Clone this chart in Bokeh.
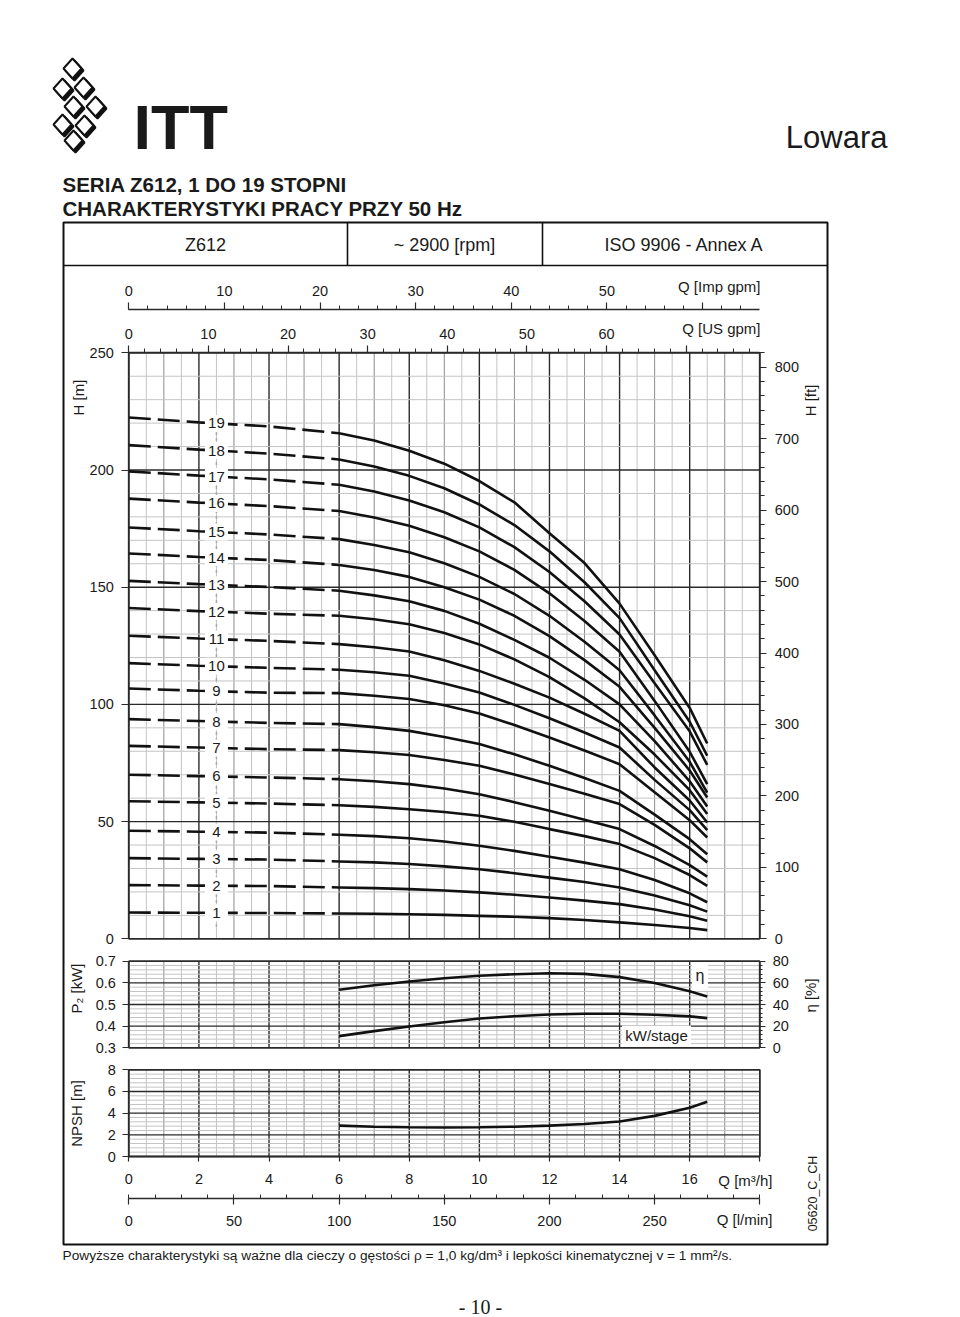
import numpy as np
from bokeh.plotting import figure
from bokeh.models import Range1d, LinearAxis, FixedTicker, PrintfTickFormatter
from bokeh.core.properties import value
from bokeh.embed import file_html
from bokeh.resources import INLINE

# ------------------------------------------------------------------ data
stages = list(range(1, 20))
q_head = [0, 2, 4, 6, 7, 8, 9, 10, 11, 12, 13, 14, 15, 16, 16.5]   # m3/h
H01 = [11.2, 11.1, 11.0, 10.8, 10.7, 10.5, 10.2, 9.8, 9.4, 8.8, 8.0, 7.0, 5.9, 4.6, 3.7]
H02 = [22.9, 22.7, 22.5, 21.9, 21.6, 21.2, 20.6, 19.8, 18.8, 17.6, 16.3, 14.8, 12.5, 9.6, 7.7]
H03 = [34.4, 34.1, 33.8, 33.0, 32.6, 31.9, 30.9, 29.7, 28.0, 26.1, 24.2, 21.9, 18.5, 14.3, 11.6]
H04 = [46.1, 45.7, 45.3, 44.4, 43.8, 42.9, 41.5, 39.7, 37.5, 35.0, 32.5, 29.7, 25.1, 19.4, 15.6]
H05 = [58.7, 58.2, 57.7, 57.0, 56.3, 55.3, 54.1, 52.5, 49.9, 46.8, 43.8, 40.4, 34.4, 27.2, 22.6]
H06 = [70.0, 69.4, 68.8, 68.1, 67.2, 66.0, 64.1, 61.7, 58.3, 54.6, 50.8, 46.8, 39.6, 31.4, 26.5]
H07 = [82.3, 81.6, 80.9, 80.5, 79.6, 78.4, 76.3, 73.8, 70.1, 66.0, 61.9, 57.5, 48.6, 38.6, 32.6]
H08 = [93.7, 92.9, 92.1, 91.6, 90.3, 88.7, 86.1, 83.1, 78.7, 73.8, 68.6, 63.1, 53.0, 42.5, 36.1]
H09 = [106.8, 105.8, 105.0, 104.8, 103.7, 102.3, 99.6, 96.1, 91.2, 85.9, 80.3, 74.5, 62.5, 50.6, 43.2]
H10 = [117.6, 116.5, 115.6, 114.8, 113.7, 112.2, 108.9, 105.1, 99.8, 94.1, 88.0, 81.6, 67.8, 54.9, 46.4]
H11 = [129.3, 128.1, 127.1, 125.7, 124.4, 122.6, 118.8, 114.3, 108.8, 102.9, 96.0, 88.7, 73.1, 59.0, 49.6]
H12 = [141.1, 139.8, 138.7, 137.8, 136.3, 134.2, 130.5, 125.6, 119.2, 111.6, 102.6, 92.4, 78.6, 63.4, 53.2]
H13 = [152.7, 151.3, 150.1, 148.5, 146.5, 144.0, 139.9, 134.4, 127.5, 119.9, 110.5, 100.0, 84.3, 67.2, 56.4]
H14 = [164.4, 162.9, 161.6, 159.5, 157.3, 154.4, 150.0, 144.7, 137.8, 129.1, 118.9, 107.5, 90.0, 71.8, 60.3]
H15 = [175.5, 173.9, 172.5, 170.5, 168.0, 164.9, 160.2, 154.4, 147.1, 137.8, 126.7, 114.6, 95.3, 75.5, 62.4]
H16 = [187.8, 186.1, 184.6, 182.5, 179.7, 176.2, 171.3, 165.3, 157.4, 147.4, 135.6, 122.5, 101.5, 79.8, 66.0]
H17 = [199.4, 197.6, 196.0, 193.7, 190.8, 187.0, 182.0, 175.5, 167.1, 156.5, 144.0, 129.8, 109.0, 88.5, 74.2]
H18 = [210.6, 208.7, 207.0, 204.5, 201.5, 197.5, 192.2, 185.3, 176.5, 165.3, 152.1, 136.8, 114.6, 92.6, 78.1]
H19 = [222.4, 220.3, 218.6, 215.7, 212.6, 208.2, 202.7, 195.3, 186.2, 173.0, 160.3, 143.0, 121.0, 98.5, 83.3]
heads = [H01, H02, H03, H04, H05, H06, H07, H08, H09, H10,
         H11, H12, H13, H14, H15, H16, H17, H18, H19]

q_perf = [6, 7, 8, 9, 10, 11, 12, 13, 14, 15, 16, 16.5]
eta_pct = [53.6, 57.8, 61.3, 64.3, 66.5, 68.0, 68.8, 68.3, 65.3, 59.8, 52.2, 47.4]
kw_stage = [0.354, 0.377, 0.398, 0.418, 0.435, 0.446, 0.454, 0.457, 0.457, 0.453, 0.445, 0.437]
npsh_m = [2.85, 2.75, 2.70, 2.68, 2.70, 2.75, 2.85, 3.00, 3.23, 3.75, 4.50, 5.05]

h_ticks = [0, 50, 100, 150, 200, 250]
ft_ticks = [0, 100, 200, 300, 400, 500, 600, 700, 800]
q_ticks = [0, 2, 4, 6, 8, 10, 12, 14, 16, 18]
us_ticks = [0, 10, 20, 30, 40, 50, 60, 70]
imp_ticks = [0, 10, 20, 30, 40, 50, 60]
lmin_ticks = [0, 50, 100, 150, 200, 250, 300]
kw_ticks = [0.3, 0.4, 0.5, 0.6, 0.7]
eta_ticks = [0, 20, 40, 60, 80]
npsh_ticks = [0, 2, 4, 6, 8]

# ------------------------------------------------------------------ page geometry (px)
W, HGT = 944, 1317
X_LO, X_HI = 0, W
Y_TOP, Y_BOT = 0, HGT
Q0_PX, Q18_PX = 128.3, 759.3
H0_PY, H250_PY = 938.3, 352.3
KW3_PY, KW7_PY = 1047.3, 960.7
N0_PY, N8_PY = 1156.0, 1069.3
IMP_PY = 309.0
LMIN_PY = 1198.3


def span(pa, va, pb, vb, lo, hi):
    k = (vb - va) / (pb - pa)
    return Range1d(va + k * (lo - pa), va + k * (hi - pa))


FT = 3.28084
US = 0.2271247
IMP = 0.2727655

x_range = span(Q0_PX, 0, Q18_PX, 18, X_LO, X_HI)
y_range = span(H0_PY, 0, H250_PY, 250, Y_BOT, Y_TOP)

p = figure(width=W, height=HGT, x_range=x_range, y_range=y_range,
           output_backend="svg", toolbar_location=None,
           x_axis_location=None, y_axis_location=None, min_border=0,
           outline_line_color=None, background_fill_color="white",
           border_fill_color="white")
p.xgrid.visible = False
p.ygrid.visible = False

p.extra_x_ranges = {
    "px": Range1d(X_LO, X_HI),
    "us": span(Q0_PX, 0, Q18_PX, 18 / US, X_LO, X_HI),
    "imp": span(Q0_PX, 0, Q18_PX, 18 / IMP, X_LO, X_HI),
    "lmin": span(Q0_PX, 0, Q18_PX, 18 * 1000 / 60, X_LO, X_HI),
}
p.extra_y_ranges = {
    "py": Range1d(Y_BOT, Y_TOP),
    "ft": span(H0_PY, 0, H250_PY, 250 * FT, Y_BOT, Y_TOP),
    "kw": span(KW3_PY, 0.3, KW7_PY, 0.7, Y_BOT, Y_TOP),
    "eta": span(KW3_PY, 0, KW7_PY, 80, Y_BOT, Y_TOP),
    "npsh": span(N0_PY, 0, N8_PY, 8, Y_BOT, Y_TOP),
}


def h_at(py):
    return 250 * (H0_PY - py) / (H0_PY - H250_PY)


def n_at(py):
    return 8 * (N0_PY - py) / (N0_PY - N8_PY)


FONT = value("Liberation Sans")
INK = "#1a1a1a"


def txt(x, y, s, size, align="left", baseline="middle", style="normal",
        font="Liberation Sans", angle=0.0, xr="px", yr="py", color=INK):
    p.text(x=[x], y=[y], text=[s], x_range_name=xr, y_range_name=yr,
           text_font=value(font), text_font_size=size, text_font_style=style,
           text_align=align, text_baseline=baseline, angle=angle,
           text_color=color)


# ------------------------------------------------------------------ grids
LIGHT, MID, DARK = "#c4c4c4", "#8c8c8c", "#2a2a2a"
q_lines = np.arange(0, 18.001, 0.5)


def vgrid(y0, y1, yr):
    for level, col, lw in (("minor", LIGHT, 1.0), ("mid", MID, 1.0), ("major", DARK, 1.4)):
        if level == "minor":
            qs = [q for q in q_lines if q % 1 != 0]
        elif level == "mid":
            qs = [q for q in q_lines if q % 2 == 1]
        else:
            qs = [q for q in q_lines if q % 2 == 0]
        p.segment(x0=qs, x1=qs, y0=[y0] * len(qs), y1=[y1] * len(qs),
                  y_range_name=yr, line_color=col, line_width=lw)


def hgrid(vals, major_every, yr):
    minor = [v for v in vals if abs(v / major_every - round(v / major_every)) > 1e-6]
    major = [v for v in vals if abs(v / major_every - round(v / major_every)) <= 1e-6]
    p.segment(x0=[0] * len(minor), x1=[18] * len(minor), y0=minor, y1=minor,
              y_range_name=yr, line_color=LIGHT, line_width=1.0)
    p.segment(x0=[0] * len(major), x1=[18] * len(major), y0=major, y1=major,
              y_range_name=yr, line_color=DARK, line_width=1.4)


# main H panel
vgrid(0, 250, "default")
hgrid(list(np.arange(0, 250.01, 10)), 50, "default")
# power / efficiency panel
vgrid(0.3, 0.7, "kw")
hgrid(list(np.round(np.arange(0.3, 0.7001, 0.02), 3)), 0.1, "kw")
# NPSH panel
vgrid(0, 8, "npsh")
hgrid(list(np.round(np.arange(0, 8.001, 0.4), 2)), 2, "npsh")

# panel borders
p.quad(left=[0], right=[18], bottom=[0], top=[250], fill_color=None,
       line_color=DARK, line_width=1.5)
p.quad(left=[0], right=[18], bottom=[0.3], top=[0.7], y_range_name="kw",
       fill_color=None, line_color=DARK, line_width=1.5)
p.quad(left=[0], right=[18], bottom=[0], top=[8], y_range_name="npsh",
       fill_color=None, line_color=DARK, line_width=1.5)

# ------------------------------------------------------------------ head curves
q_arr = np.array(q_head)
dash_mask = q_arr <= 6
solid_mask = q_arr >= 6
label_q = 2.5
p.segment(x0=[label_q], x1=[label_q], y0=[5], y1=[219], line_color="#a8a8a8",
          line_width=1.5, line_dash="3 3")
label_h = []
for n, h in zip(stages, heads):
    h = np.array(h)
    p.line(q_arr[dash_mask], h[dash_mask], line_color="#111111", line_width=2.6,
           line_dash="22 7")
    p.line(q_arr[solid_mask], h[solid_mask], line_color="#111111", line_width=2.6)
    label_h.append(float(np.interp(label_q, q_arr, h)))
p.rect(x=[label_q] * 19, y=label_h, width=23, height=17, width_units="screen",
       height_units="screen", fill_color="white", line_color=None)
p.text(x=[label_q] * 19, y=label_h, text=[str(n) for n in stages],
       text_font=FONT, text_font_size="15px", text_align="center",
       text_baseline="middle", text_color=INK)

# ------------------------------------------------------------------ performance curves
p.line(q_perf, eta_pct, y_range_name="eta", line_color="#111111", line_width=2.6)
p.line(q_perf, kw_stage, y_range_name="kw", line_color="#111111", line_width=2.6)
p.line(q_perf, npsh_m, y_range_name="npsh", line_color="#111111", line_width=2.6)

# labels inside panel (white boxes)
p.quad(left=[691.5], right=[707.5], top=[961.5], bottom=[990], x_range_name="px",
       y_range_name="py", fill_color="white", line_color=None)
txt(699.5, 975, "η", "16px", align="center")
p.quad(left=[621.5], right=[690.5], top=[1025], bottom=[1046.5], x_range_name="px",
       y_range_name="py", fill_color="white", line_color=None)
txt(656, 1035, "kW/stage", "15px", align="center")


# ------------------------------------------------------------------ axes
def style_axis(ax, tick_out=7, minor_out=0, minor_in=0, standoff=7, size="14.5px"):
    ax.major_tick_out = tick_out
    ax.major_tick_in = 0
    ax.minor_tick_out = minor_out
    ax.minor_tick_in = minor_in
    ax.major_tick_line_color = DARK
    ax.minor_tick_line_color = DARK
    ax.major_tick_line_width = 1.2
    ax.minor_tick_line_width = 1.0
    ax.axis_line_color = DARK
    ax.axis_line_width = 1.3
    ax.major_label_standoff = standoff
    ax.major_label_text_font = "Liberation Sans"
    ax.major_label_text_font_size = size
    ax.major_label_text_color = INK


ax_h = LinearAxis(bounds=(0, 250), fixed_location=0,
                  ticker=FixedTicker(ticks=h_ticks, minor_ticks=[]))
style_axis(ax_h, tick_out=7, standoff=8)
p.add_layout(ax_h, "left")

ax_ft = LinearAxis(y_range_name="ft", bounds=(0, 250 * FT), fixed_location=18,
                   ticker=FixedTicker(ticks=ft_ticks, minor_ticks=list(range(0, 821, 20))))
style_axis(ax_ft, tick_out=7, minor_out=5, standoff=8)
p.add_layout(ax_ft, "right")

ax_us = LinearAxis(x_range_name="us", bounds=(0, 18 / US), fixed_location=250,
                   ticker=FixedTicker(ticks=us_ticks, minor_ticks=list(range(0, 80, 2))))
ax_us.major_label_overrides = {70: ""}
style_axis(ax_us, tick_out=7, minor_out=4, standoff=7)
p.add_layout(ax_us, "above")

ax_imp = LinearAxis(x_range_name="imp", bounds=(0, 18 / IMP), fixed_location=h_at(IMP_PY),
                    ticker=FixedTicker(ticks=imp_ticks, minor_ticks=list(range(0, 66, 2))))
ax_imp.major_label_overrides = {60: ""}
style_axis(ax_imp, tick_out=7, minor_out=4, standoff=7)
p.add_layout(ax_imp, "above")

ax_q = LinearAxis(y_range_name="npsh", bounds=(0, 18), fixed_location=0,
                  ticker=FixedTicker(ticks=q_ticks, minor_ticks=[]))
ax_q.major_label_overrides = {18: ""}
style_axis(ax_q, tick_out=5, standoff=12)
p.add_layout(ax_q, "below")

ax_l = LinearAxis(x_range_name="lmin", y_range_name="npsh", bounds=(0, 300),
                  fixed_location=n_at(LMIN_PY),
                  ticker=FixedTicker(ticks=lmin_ticks,
                                     minor_ticks=list(np.arange(0, 300.1, 12.5))))
ax_l.major_label_overrides = {300: ""}
style_axis(ax_l, tick_out=6, minor_in=4, standoff=11)
p.add_layout(ax_l, "below")

ax_kw = LinearAxis(y_range_name="kw", bounds=(0.3, 0.7), fixed_location=0,
                   ticker=FixedTicker(ticks=kw_ticks, minor_ticks=[]),
                   formatter=PrintfTickFormatter(format="%.1f"))
style_axis(ax_kw, tick_out=6, standoff=7)
p.add_layout(ax_kw, "left")

ax_eta = LinearAxis(y_range_name="eta", bounds=(0, 80), fixed_location=18,
                    ticker=FixedTicker(ticks=eta_ticks, minor_ticks=list(range(0, 81, 4))))
style_axis(ax_eta, tick_out=6, minor_out=3, standoff=7)
p.add_layout(ax_eta, "right")

ax_n = LinearAxis(y_range_name="npsh", bounds=(0, 8), fixed_location=0,
                  ticker=FixedTicker(ticks=npsh_ticks, minor_ticks=[]))
style_axis(ax_n, tick_out=6, standoff=7)
p.add_layout(ax_n, "left")

# axis titles
txt(77.5, 397, "H [m]", "15px", align="center", angle=np.pi / 2)
txt(810, 400, "H [ft]", "15px", align="center", angle=np.pi / 2)
txt(76, 988, "P₂ [kW]", "15px", align="center", angle=np.pi / 2)
txt(76, 1113, "NPSH [m]", "15px", align="center", angle=np.pi / 2)
txt(810, 995, "η [%]", "15px", align="center", angle=np.pi / 2)
txt(760, 286, "Q [Imp gpm]", "15px", align="right")
txt(760, 328, "Q [US gpm]", "15px", align="right")
txt(772, 1180, "Q [m³/h]", "15px", align="right")
txt(772, 1219, "Q [l/min]", "15px", align="right")
txt(812, 1193, "05620_C_CH", "12.5px", align="center", angle=np.pi / 2)

# ------------------------------------------------------------------ page furniture
p.quad(left=[63], right=[827], top=[222], bottom=[1244], x_range_name="px",
       y_range_name="py", fill_color=None, line_color="#111111", line_width=2)
p.segment(x0=[63, 347, 542], x1=[827, 347, 542], y0=[265, 222, 222],
          y1=[265, 265, 265], x_range_name="px", y_range_name="py",
          line_color="#111111", line_width=1.6)
txt(205, 244, "Z612", "18px", align="center")
txt(444, 244, "~ 2900 [rpm]", "18px", align="center")
txt(684, 244, "ISO 9906 - Annex A", "18px", align="center")

txt(62, 184, "SERIA Z612, 1 DO 19 STOPNI", "20.5px", style="bold")
txt(62, 208, "CHARAKTERYSTYKI PRACY PRZY 50 Hz", "20.5px", style="bold")

txt(62, 1255, "Powyższe charakterystyki są ważne dla cieczy o gęstości ρ = 1,0 kg/dm³ "
    "i lepkości kinematycznej v = 1 mm²/s.", "13.7px")
txt(480, 1306, "- 10 -", "20px", align="center", font="Liberation Serif")

# logo
txt(133, 126, "ITT", "63px", style="bold")
txt(887, 137, "Lowara", "31px", align="right")
dx, dy = 9, 10
centres = [(72, 68), (62, 88), (83, 87), (73, 106), (95, 106), (62, 124), (84, 125), (73, 140)]
xs = [[cx - dx, cx, cx + dx, cx] for cx, cy in centres]
ys = [[cy, cy - dy, cy, cy + dy] for cx, cy in centres]
p.patches([[v + 2 for v in x] for x in xs], [[v + 2 for v in y] for y in ys],
          x_range_name="px", y_range_name="py", fill_color="#111111",
          line_color="#111111", line_width=2)
p.patches(xs, ys, x_range_name="px", y_range_name="py", fill_color="white",
          line_color="#111111", line_width=2)

open("out.html", "w").write(file_html(p, INLINE))
